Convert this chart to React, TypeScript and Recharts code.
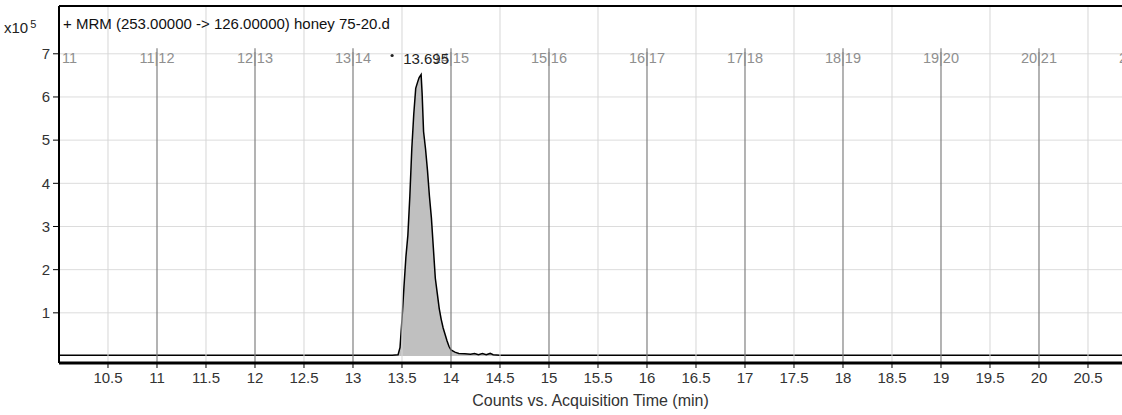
import React from "react";
import {
  ComposedChart,
  Area,
  XAxis,
  YAxis,
  CartesianGrid,
  ReferenceLine,
  ReferenceDot,
  Label,
} from "recharts";

// Acquisition time (min)
const times = [
  10.0, 13.4, 13.46, 13.48, 13.5, 13.52, 13.54, 13.56, 13.58, 13.6, 13.62, 13.64,
  13.66, 13.675, 13.695, 13.705, 13.72, 13.74, 13.76, 13.78, 13.8, 13.82, 13.84,
  13.86, 13.88, 13.9, 13.92, 13.94, 13.96, 13.98, 14.0, 14.04, 14.08, 14.14, 14.2,
  14.24, 14.28, 14.32, 14.36, 14.4, 14.43, 14.5, 20.85,
];
// Counts (x10^5)
const counts = [
  0.02, 0.02, 0.03, 0.2, 0.85, 1.6, 2.3, 2.8, 3.7, 4.8, 5.6, 6.2,
  6.35, 6.45, 6.52, 6.1, 5.2, 4.8, 4.3, 3.7, 3.2, 2.5, 1.8,
  1.45, 1.1, 0.85, 0.65, 0.5, 0.35, 0.22, 0.14, 0.09, 0.06, 0.05, 0.04,
  0.06, 0.03, 0.06, 0.03, 0.06, 0.03, 0.02, 0.02,
];
const xTicks = [10.5, 11, 11.5, 12, 12.5, 13, 13.5, 14, 14.5, 15, 15.5, 16, 16.5, 17, 17.5, 18, 18.5, 19, 19.5, 20, 20.5];
const yTicks = [1, 2, 3, 4, 5, 6, 7];
const majorLines = [11, 12, 13, 14, 15, 16, 17, 18, 19, 20];
const minorLines = [10.5, 11.5, 12.5, 13.5, 14.5, 15.5, 16.5, 17.5, 18.5, 19.5, 20.5];
const segmentLabels = [10, 11, 12, 13, 14, 15, 16, 17, 18, 19, 20, 21];
const peakTime = 13.695;
const peakCount = 6.52;
const title = "+ MRM (253.00000 -> 126.00000) honey 75-20.d";
const xTitle = "Counts vs. Acquisition Time (min)";

const data = times.map((t, i) => ({ t, c: counts[i] }));

const FONT = "'Liberation Sans', Arial, sans-serif";
const X_MIN = 10;
const X_MAX = 20.847;
const Y_MIN = -0.162;
const Y_MAX = 8.107;

const segLabel = (n: number) => (props: any) => {
  const vb = props.viewBox || {};
  const x = vb.x ?? 0;
  const y = (vb.y ?? 0) + 53;
  if (n === 10) {
    return (
      <text x={x + 3} y={y} fill="#8f8f8f" fontSize={14.5} fontFamily={FONT} textAnchor="start" dominantBaseline="middle">
        {`${n + 1}`}
      </text>
    );
  }
  return (
    <text x={x} y={y} fill="#8f8f8f" fontSize={14.5} fontFamily={FONT} textAnchor="middle" dominantBaseline="middle">
      {`${n}|${n + 1}`}
    </text>
  );
};

const peakLabel = (props: any) => {
  const vb = props.viewBox || {};
  const cx = (vb.x ?? 0) + (vb.width ?? 0) / 2;
  const cy = (vb.y ?? 0) + (vb.height ?? 0) / 2;
  return (
    <g>
      <circle cx={cx - 29} cy={cy - 19} r={1.6} fill="#222" />
      <text x={cx + 5} y={cy - 14} fill="#222" fontSize={15} fontFamily={FONT} textAnchor="middle" dominantBaseline="middle">
        {peakTime.toFixed(3)}
      </text>
    </g>
  );
};

export default function App() {
  return (
    <div style={{ position: "absolute", left: 0, top: 0, width: 1122, height: 415, background: "#fff" }}>
      <ComposedChart
        width={1122}
        height={415}
        data={data}
        margin={{ top: 6, right: 0, bottom: 0, left: 0 }}
      >
        <CartesianGrid vertical={false} stroke="#dcdcdc" strokeWidth={1} />
        {minorLines.map((v) => (
          <ReferenceLine key={`mi${v}`} x={v} stroke="#d6d6d6" strokeWidth={1} />
        ))}
        {majorLines.map((v) => (
          <ReferenceLine
            key={`ma${v}`}
            segment={[
              { x: v, y: 7.13 },
              { x: v, y: Y_MIN },
            ]}
            stroke="#808080"
            strokeWidth={1.2}
          />
        ))}
        {segmentLabels.map((n) => (
          <ReferenceLine
            key={`lb${n}`}
            x={n}
            stroke="none"
            ifOverflow="visible"
            label={{ content: segLabel(n) }}
          />
        ))}
        <XAxis
          dataKey="t"
          type="number"
          domain={[X_MIN, X_MAX]}
          allowDataOverflow
          ticks={xTicks}
          interval={0}
          height={52}
          axisLine={{ stroke: "#000", strokeWidth: 3 }}
          tickLine={{ stroke: "#000" }}
          tickSize={5}
          tickMargin={4}
          tick={{ fill: "#333", fontSize: 15, fontFamily: FONT }}
        >
          <Label value={xTitle} position="insideBottom" offset={9} fill="#333" fontSize={16} fontFamily={FONT} />
        </XAxis>
        <YAxis
          type="number"
          domain={[Y_MIN, Y_MAX]}
          allowDataOverflow
          ticks={yTicks}
          interval={0}
          width={59}
          axisLine={{ stroke: "#000", strokeWidth: 2 }}
          tickLine={{ stroke: "#000" }}
          tickSize={6}
          tickMargin={3}
          tick={{ fill: "#333", fontSize: 15, fontFamily: FONT }}
        />
        <ReferenceLine y={Y_MAX} stroke="#000" strokeWidth={2} />
        <Area
          type="linear"
          dataKey="c"
          stroke="#000"
          strokeWidth={1.5}
          fill="#c0c0c0"
          fillOpacity={1}
          isAnimationActive={false}
          dot={false}
          activeDot={false}
        />
        <ReferenceDot x={peakTime} y={peakCount} r={0} fill="none" stroke="none" label={{ content: peakLabel }} />
      </ComposedChart>
      <div
        style={{
          position: "absolute",
          left: 4,
          top: 15,
          fontFamily: FONT,
          fontSize: 15,
          color: "#222",
          lineHeight: "18px",
          whiteSpace: "nowrap",
        }}
      >
        x10<sup style={{ fontSize: 11, verticalAlign: "5px", marginLeft: 2 }}>5</sup>
      </div>
      <div
        style={{
          position: "absolute",
          left: 63,
          top: 15,
          fontFamily: FONT,
          fontSize: 15,
          color: "#111",
          lineHeight: "18px",
          whiteSpace: "nowrap",
        }}
      >
        {title}
      </div>
    </div>
  );
}
